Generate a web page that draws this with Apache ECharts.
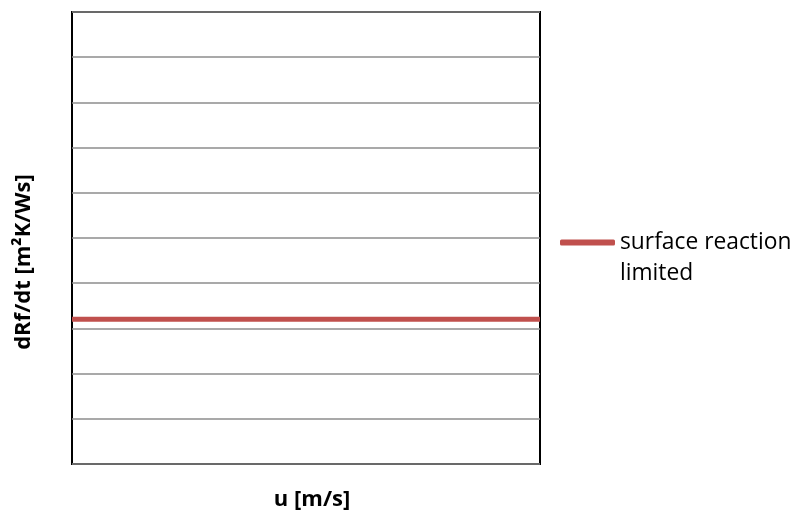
<!DOCTYPE html>
<html>
<head>
<meta charset="utf-8">
<script src="https://cdn.jsdelivr.net/npm/echarts@6/dist/echarts.min.js"></script>
<style>
  html, body { margin: 0; padding: 0; background: #ffffff; }
  #chart { width: 798px; height: 517px; }
</style>
</head>
<body>
<div id="chart"></div>
<script>
// Fouling rate vs. flow velocity: surface-reaction-limited regime (constant rate)
const xRange = [0, 1];
const yRange = [0, 10];
const yStep = 1;
const seriesName = 'surface reaction limited';
const velocity = [0, 1];
const foulingRate = [3.2, 3.2];

const chart = echarts.init(document.getElementById('chart'), null, { renderer: 'canvas' });
const FONT = '"Open Sans", "Noto Sans", sans-serif';

chart.setOption({
  animation: false,
  backgroundColor: '#ffffff',
  grid: {
    left: 72, right: 258, top: 12, bottom: 53,
    outerBoundsMode: 'none',
    containLabel: false,
    show: true, borderColor: '#000000', borderWidth: 2, backgroundColor: 'transparent'
  },
  legend: {
    show: true,
    left: 560,
    top: 196,
    padding: 0,
    itemWidth: 55,
    itemHeight: 6,
    itemGap: 0,
    data: [{ name: seriesName, icon: 'roundRect' }],
    // leading empty line keeps the first text line level with the legend line
    formatter: () => '\nsurface reaction\nlimited',
    textStyle: {
      fontFamily: FONT, fontSize: 22.8, color: '#000000', lineHeight: 31
    }
  },
  xAxis: {
    type: 'value',
    min: xRange[0], max: xRange[1],
    name: 'u [m/s]',
    nameLocation: 'middle',
    nameGap: 25,
    nameTextStyle: {
      fontFamily: FONT, fontSize: 22, fontWeight: 'bold', color: '#000000',
      padding: [0, 0, 0, 12]
    },
    axisLine: { show: false },
    axisTick: { show: false },
    axisLabel: { show: false },
    splitLine: { show: false }
  },
  yAxis: {
    type: 'value',
    min: yRange[0], max: yRange[1], interval: yStep,
    name: 'dRf/dt [m\u00B2K/Ws]',
    nameLocation: 'middle',
    nameGap: 37,
    nameTextStyle: {
      fontFamily: FONT, fontSize: 22, fontWeight: 'bold', color: '#000000',
      padding: [0, 48, 0, 0]
    },
    axisLine: { show: false },
    axisTick: { show: false },
    axisLabel: { show: false },
    splitLine: { show: true, lineStyle: { color: '#8c8c8c', width: 1.5 } }
  },
  series: [{
    name: seriesName,
    type: 'line',
    data: velocity.map((v, i) => [v, foulingRate[i]]),
    symbol: 'none',
    lineStyle: { color: '#c0504d', width: 5, cap: 'butt' },
    itemStyle: { color: '#c0504d' },
    clip: false
  }]
});
</script>
</body>
</html>
